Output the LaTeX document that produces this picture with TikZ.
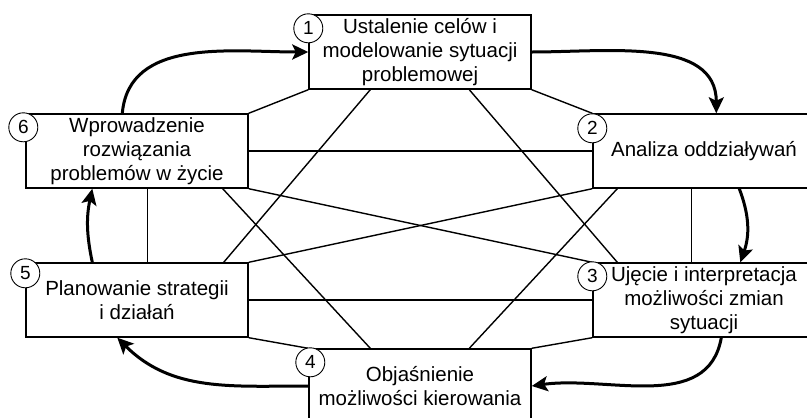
\documentclass[tikz,border=0pt]{standalone}
\usepackage{fontspec}
\setmainfont{Liberation Sans}
\usetikzlibrary{arrows.meta, calc}

\begin{document}
\begin{tikzpicture}[
  x=1pt, y=1pt,
  box/.style={draw, line width=1.4pt, minimum width=222pt, minimum height=74pt, align=center, font=\fontsize{20.5}{24}\selectfont, inner sep=0pt},
  num/.style={circle, draw, fill=white, line width=0.9pt, minimum size=29pt, inner sep=0pt, font=\fontsize{19}{20}\selectfont},
  link/.style={line width=1.4pt},
  flow/.style={-{Stealth[length=16pt, width=15pt, inset=3.5pt]}, line width=3pt},
]
  \clip (0,0) rectangle (807,-418);
  % the six stages
  \node[box] (b1) at (420,-52) {Ustalenie celów i\\modelowanie sytuacji\\problemowej};
  \node[box] (b2) at (704,-151) {Analiza oddziaływań};
  \node[box] (b3) at (704,-300) {Ujęcie i interpretacja\\możliwości zmian\\sytuacji};
  \node[box] (b4) at (420,-386) {Objaśnienie\\możliwości kierowania};
  \node[box] (b5) at (137,-300) {Planowanie strategii\\i działań};
  \node[box] (b6) at (137,-151) {Wprowadzenie\\rozwiązania\\problemów w życie};

  % links between the stages
  \draw[link] (b1.south west) -- (b6.north east);
  \draw[link] (b1.south east) -- (b2.north west);
  \draw[link] (b6.east) -- (b2.west);
  \draw[link] (b5.east) -- (b3.west);
  \draw[link] (b6.south east) -- (b3.north west);
  \draw[link] (b2.south west) -- (b5.north east);
  \draw[link] (b5.south east) -- (b4.north west);
  \draw[link] (b3.south west) -- (b4.north east);
  \draw[link] ($(b6.south west)+(122,0)$) -- ($(b5.north west)+(122,0)$);
  \draw[link] ($(b2.south west)+(99,0)$) -- ($(b3.north west)+(99,0)$);
  \draw[link] ($(b1.south west)+(62,0)$) -- ($(b5.north east)+(-25,0)$);
  \draw[link] ($(b1.south west)+(161,0)$) -- ($(b3.north west)+(25,0)$);
  \draw[link] ($(b6.south east)+(-26,0)$) -- ($(b4.north west)+(62,0)$);
  \draw[link] ($(b2.south west)+(25,0)$) -- ($(b4.north west)+(161,0)$);

  % numbers
  \node[num] (n1) at ($(b1.north west)+(0,-14)$) {1};
  \node[num] (n2) at ($(b2.north west)+(0,-15)$) {2};
  \node[num] (n3) at ($(b3.north west)+(0,-14)$) {3};
  \node[num] (n4) at ($(b4.north west)+(2,-14)$) {4};
  \node[num] (n5) at ($(b5.north west)+(0,-11)$) {5};
  \node[num] (n6) at ($(b6.north west)+(-2,-14)$) {6};

  % cycle
  \draw[flow] ($(b6.north west)+(97,0)$) to[out=85, in=180] (b1.west);
  \draw[flow] (b1.east) to[out=0, in=90] ($(b2.north west)+(124,0)$);
  \draw[flow] ($(b2.south west)+(147,0)$) to[bend left=20] ($(b3.north west)+(148,0)$);
  \draw[flow] ($(b3.south west)+(129,0)$) to[out=-100, in=8] (b4.east);
  \draw[flow] (b4.west) to[out=180, in=-45] ($(b5.south west)+(92,0)$);
  \draw[flow] ($(b5.north west)+(67,0)$) to[bend left=12] ($(b6.south west)+(67,0)$);
\end{tikzpicture}
\end{document}
